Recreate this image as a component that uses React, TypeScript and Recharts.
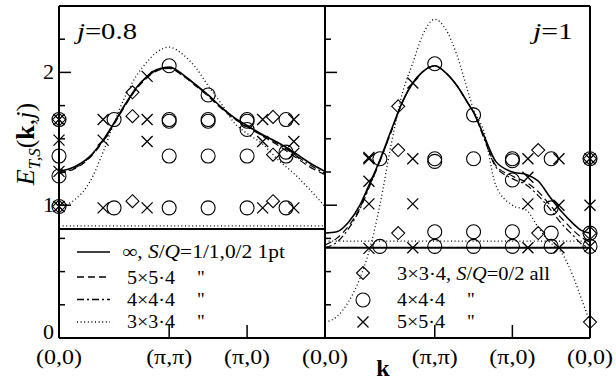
import React from 'react';
import { ComposedChart, Line, Scatter, XAxis, YAxis } from 'recharts';

// path (0,0) -> (pi,pi) -> (pi,0) -> (0,0), distance in units of pi
const PATH_TICKS = [0, 1.414, 2.414, 3.414];
const PATH_LABELS = ['(0,0)', '(π,π)', '(π,0)', '(0,0)'];
const E_TICKS = [0, 0.25, 0.5, 0.75, 1, 1.25, 1.5, 1.75, 2, 2.25, 2.5];
const E_LABELS = [0, 1, 2];
const BAND_K = [0, 3.414];

// j = 0.8 curves
const K_08 = [0, 0.2, 0.4, 0.566, 0.707, 0.85, 1.0, 1.131, 1.25, 1.414, 1.6, 1.75, 1.914, 2.1, 2.25, 2.414, 2.614, 2.814, 3.014, 3.214, 3.414];
const E08_INF = [1.255, 1.29, 1.37, 1.49, 1.62, 1.76, 1.89, 1.97, 2.02, 2.04, 1.98, 1.91, 1.83, 1.73, 1.66, 1.6, 1.53, 1.47, 1.4, 1.32, 1.255];
const E08_5 = [1.24, 1.275, 1.36, 1.48, 1.61, 1.75, 1.88, 1.96, 2.01, 2.03, 1.97, 1.9, 1.82, 1.72, 1.65, 1.59, 1.52, 1.45, 1.37, 1.29, 1.23];
const E08_4 = [1.245, 1.28, 1.365, 1.485, 1.615, 1.755, 1.885, 1.965, 2.015, 2.035, 1.975, 1.905, 1.825, 1.725, 1.655, 1.595, 1.525, 1.46, 1.385, 1.305, 1.24];
const E08_3 = [0.99, 1.04, 1.18, 1.4, 1.62, 1.82, 1.98, 2.08, 2.15, 2.19, 2.13, 2.04, 1.9, 1.75, 1.62, 1.54, 1.46, 1.34, 1.24, 1.12, 0.99];
const BAND08_INF = [0.82, 0.82];
const BAND08_3 = [0.845, 0.845];

// j = 0.8 exact diagonalisation points
const D08_K = [0, 0, 0.943, 0.943, 0.943, 2.747, 2.747, 2.747];
const D08_E = [1.645, 0.99, 1.85, 1.67, 1.03, 1.665, 1.38, 1.03];
const C08_K = [0, 0, 0, 0, 0.707, 0.707, 1.414, 1.414, 1.414, 1.414, 1.414, 1.914, 1.914, 1.914, 1.914, 1.914, 2.414, 2.414, 2.414, 2.414, 2.414, 2.914, 2.914, 2.914, 2.914];
const C08_E = [1.645, 1.37, 1.22, 0.99, 1.645, 0.98, 2.05, 1.645, 1.632, 1.37, 0.98, 1.83, 1.645, 1.632, 1.37, 0.98, 1.645, 1.632, 1.57, 1.37, 0.98, 1.645, 1.4, 1.37, 0.98];
const X08_K = [0, 0, 0, 0, 0.566, 0.566, 0.566, 1.131, 1.131, 1.131, 1.131, 2.614, 2.614, 2.614, 3.014, 3.014, 3.014, 3.014];
const X08_E = [1.645, 1.49, 1.255, 0.99, 1.645, 1.49, 0.98, 1.97, 1.645, 1.48, 0.98, 1.645, 1.48, 0.98, 1.645, 1.48, 1.39, 0.98];

// j = 1 curves
const K_1 = [0, 0.15, 0.3, 0.45, 0.566, 0.707, 0.85, 1.0, 1.131, 1.25, 1.414, 1.55, 1.7, 1.85, 1.914, 2.05, 2.2, 2.414, 2.6, 2.75, 2.9, 3.05, 3.2, 3.3, 3.414];
const E1_INF = [0.79, 0.8, 0.87, 1.0, 1.15, 1.34, 1.56, 1.78, 1.92, 2.0, 2.05, 2.0, 1.9, 1.76, 1.7, 1.52, 1.33, 1.25, 1.23, 1.18, 1.06, 0.95, 0.86, 0.81, 0.79];
const E1_5 = [0.7, 0.75, 0.84, 0.98, 1.14, 1.33, 1.55, 1.78, 1.92, 2.0, 2.05, 2.0, 1.9, 1.76, 1.7, 1.51, 1.3, 1.22, 1.17, 1.1, 1.0, 0.9, 0.81, 0.76, 0.72];
const E1_4 = [0.68, 0.72, 0.82, 0.97, 1.13, 1.33, 1.55, 1.78, 1.92, 2.0, 2.05, 2.0, 1.9, 1.76, 1.7, 1.5, 1.29, 1.2, 1.15, 1.07, 0.97, 0.86, 0.77, 0.71, 0.68];
const E1_3 = [0.12, 0.16, 0.27, 0.45, 0.65, 1.0, 1.45, 1.85, 2.07, 2.27, 2.4, 2.33, 2.13, 1.84, 1.72, 1.55, 1.15, 1.0, 0.96, 0.83, 0.72, 0.64, 0.46, 0.3, 0.12];
const BAND1_INF = [0.68, 0.68];
const BAND1_3 = [0.73, 0.73];

// j = 1 exact diagonalisation points
const D1_K = [0.943, 0.943, 0.943, 2.747, 2.747, 3.414, 3.414, 3.414];
const D1_E = [1.745, 1.415, 0.79, 1.415, 0.79, 1.35, 0.79, 0.12];
const C1_K = [0.707, 0.707, 1.414, 1.414, 1.414, 1.414, 1.414, 1.914, 1.914, 1.914, 1.914, 2.414, 2.414, 2.414, 2.414, 2.414, 2.914, 2.914, 2.914, 2.914, 3.414, 3.414, 3.414];
const C1_E = [1.35, 0.69, 2.065, 1.35, 1.33, 0.8, 0.69, 1.68, 1.35, 0.8, 0.69, 1.35, 1.335, 1.19, 0.8, 0.69, 1.35, 0.98, 0.79, 0.69, 1.35, 0.79, 0.69];
const X1_K = [0.566, 0.566, 0.566, 0.566, 0.566, 1.131, 1.131, 1.131, 1.131, 2.614, 2.614, 2.614, 2.614, 3.014, 3.014, 3.014, 3.414, 3.414, 3.414];
const X1_E = [1.35, 1.36, 1.18, 1.01, 0.675, 1.92, 1.35, 1.01, 0.68, 1.35, 1.21, 1.01, 0.68, 1.35, 1.0, 0.68, 1.35, 1.0, 0.69];

const pts = (xs: number[], ys: number[]) => xs.map((x, i) => ({ x, y: ys[i] }));

const FONT = '"Liberation Serif", "Times New Roman", serif';
const DASH = '7 4';
const DASHDOT = '7 3 2 3';
const DOT = '1 2.6';

function Circle(p: any) {
  return <circle cx={p.cx} cy={p.cy} r={7} fill="none" stroke="#000" strokeWidth={1.1} />;
}
function Diamond(p: any) {
  const { cx, cy } = p;
  const s = 6.5;
  return <path d={`M${cx},${cy - s}L${cx + s},${cy}L${cx},${cy + s}L${cx - s},${cy}Z`} fill="none" stroke="#000" strokeWidth={1.1} />;
}
function Cross(p: any) {
  const { cx, cy } = p;
  const s = 5.5;
  return <path d={`M${cx - s},${cy - s}L${cx + s},${cy + s}M${cx - s},${cy + s}L${cx + s},${cy - s}`} stroke="#000" strokeWidth={1.3} />;
}

const isMajor = (v: number) => Math.abs(v - Math.round(v)) < 1e-6;
const inner = (v: number) => v > 0.01 && v < 3.4;

function Panel(props: any) {
  const { left, right, showY, firstLabel, curves, bands, diamonds, circles, crosses } = props;
  const axisLine = { stroke: '#000', strokeWidth: 2 };
  // axes are 1px thick so that they get drawn; margins account for that pixel
  return (
    <div style={{ position: 'absolute', left: 0, top: 0 }}>
      <ComposedChart width={616} height={380} margin={{ top: 5, right: 616 - right - 1, bottom: 41, left: left - 1 }}>
        <XAxis
          xAxisId="b" type="number" dataKey="x" domain={[0, 3.414]} ticks={PATH_TICKS} interval={0}
          height={1} tickSize={0} tickMargin={0} tickLine={false} axisLine={axisLine}
          tick={(t: any) => {
            const v = t.payload.value;
            const i = PATH_TICKS.indexOf(v);
            return (
              <g>
                {inner(v) && <line x1={t.x} x2={t.x} y1={t.y} y2={t.y - 13} stroke="#000" strokeWidth={1.5} />}
                {(i > 0 || firstLabel) && (
                  <text x={t.x} y={t.y + 26} textAnchor="middle" fontSize={22} textLength={46} lengthAdjust="spacingAndGlyphs"
                    fontFamily={FONT} fill="#000">{PATH_LABELS[i]}</text>
                )}
              </g>
            );
          }}
        />
        <XAxis
          xAxisId="t" orientation="top" type="number" dataKey="x" domain={[0, 3.414]} ticks={PATH_TICKS} interval={0}
          height={1} tickSize={0} tickMargin={0} tickLine={false} axisLine={axisLine}
          tick={(t: any) => (inner(t.payload.value) ? <line x1={t.x} x2={t.x} y1={t.y} y2={t.y + 13} stroke="#000" strokeWidth={1.5} /> : <g />)}
        />
        <YAxis
          yAxisId="l" type="number" dataKey="y" domain={[0, 2.5]} ticks={E_TICKS} interval={0}
          width={1} tickSize={0} tickMargin={0} tickLine={false} axisLine={axisLine}
          tick={(t: any) => {
            const v = t.payload.value;
            const major = isMajor(v);
            return (
              <g>
                <line x1={t.x} x2={t.x + (major ? 12 : 6)} y1={t.y} y2={t.y} stroke="#000" strokeWidth={1.5} />
                {showY && E_LABELS.includes(v) && (
                  <text x={t.x - 5} y={t.y + (v === 0 ? 1 : 7)} textAnchor="end" fontSize={22} fontFamily={FONT} fill="#000">{v}</text>
                )}
              </g>
            );
          }}
        />
        <YAxis
          yAxisId="r" orientation="right" type="number" dataKey="y" domain={[0, 2.5]} ticks={E_TICKS} interval={0}
          width={1} tickSize={0} tickMargin={0} tickLine={false} axisLine={axisLine}
          tick={(t: any) => {
            const major = isMajor(t.payload.value);
            return <line x1={t.x} x2={t.x - (major ? 12 : 6)} y1={t.y} y2={t.y} stroke="#000" strokeWidth={1.5} />;
          }}
        />
        {bands.map((b: any, i: number) => (
          <Line key={'b' + i} xAxisId="b" yAxisId="l" data={b.data} dataKey="y" type="linear" stroke="#000"
            strokeWidth={b.w} strokeDasharray={b.dash} dot={false} activeDot={false} isAnimationActive={false} />
        ))}
        {curves.map((c: any, i: number) => (
          <Line key={'c' + i} xAxisId="b" yAxisId="l" data={c.data} dataKey="y" type="monotone" stroke="#000"
            strokeWidth={c.w} strokeDasharray={c.dash} dot={false} activeDot={false} isAnimationActive={false} />
        ))}
        <Scatter xAxisId="b" yAxisId="l" data={diamonds} dataKey="y" shape={Diamond} isAnimationActive={false} />
        <Scatter xAxisId="b" yAxisId="l" data={circles} dataKey="y" shape={Circle} isAnimationActive={false} />
        <Scatter xAxisId="b" yAxisId="l" data={crosses} dataKey="y" shape={Cross} isAnimationActive={false} />
      </ComposedChart>
    </div>
  );
}

function Overlay() {
  const txt = { fontFamily: FONT, fill: '#000' } as const;
  const lg = { ...txt, fontSize: 19, lengthAdjust: 'spacingAndGlyphs' } as const;
  const q = '"';
  return (
    <svg width={616} height={380} style={{ position: 'absolute', left: 0, top: 0, pointerEvents: 'none' }}>
      <g transform="translate(34,144) rotate(-90)">
        <text {...txt} fontSize={26} textAnchor="middle">
          <tspan fontStyle="italic">E</tspan>
          <tspan fontStyle="italic" fontSize={17} dy={6}>T,S</tspan>
          <tspan dy={-6}>(</tspan>
          <tspan fontWeight="bold">k</tspan>,<tspan fontStyle="italic">j</tspan>)
        </text>
      </g>
      <text {...txt} x={383} y={376} fontSize={24} fontWeight="bold" textAnchor="middle">k</text>
      <text {...txt} x={77} y={39} fontSize={23} textLength={60} lengthAdjust="spacingAndGlyphs"><tspan fontStyle="italic">j</tspan>=0.8</text>
      <text {...txt} x={533} y={39} fontSize={23} textLength={40} lengthAdjust="spacingAndGlyphs"><tspan fontStyle="italic">j</tspan>=1</text>

      <line x1={77} x2={110} y1={252} y2={252} stroke="#000" strokeWidth={1.5} />
      <line x1={77} x2={110} y1={277} y2={277} stroke="#000" strokeWidth={1.3} strokeDasharray={DASH} />
      <line x1={77} x2={110} y1={299.5} y2={299.5} stroke="#000" strokeWidth={1.3} strokeDasharray={DASHDOT} />
      <line x1={77} x2={110} y1={322} y2={322} stroke="#000" strokeWidth={1.3} strokeDasharray={DOT} />
      <text {...lg} x={122} y={258} textLength={163}>∞, <tspan fontStyle="italic">S</tspan>/<tspan fontStyle="italic">Q</tspan>=1/1,0/2 1pt</text>
      <text {...lg} x={127} y={284} textLength={48}>5×5·4</text>
      <text {...lg} x={127} y={306} textLength={48}>4×4·4</text>
      <text {...lg} x={127} y={328} textLength={48}>3×3·4</text>
      <text {...txt} fontSize={19} x={197} y={284}>{q}</text>
      <text {...txt} fontSize={19} x={197} y={306}>{q}</text>
      <text {...txt} fontSize={19} x={197} y={328}>{q}</text>

      <Diamond cx={363} cy={273} />
      <Circle cx={363} cy={300} />
      <Cross cx={363} cy={322} />
      <text {...lg} x={397} y={280} textLength={153}>3×3·4, <tspan fontStyle="italic">S</tspan>/<tspan fontStyle="italic">Q</tspan>=0/2 all</text>
      <text {...lg} x={397} y={306} textLength={48}>4×4·4</text>
      <text {...lg} x={397} y={328} textLength={48}>5×5·4</text>
      <text {...txt} fontSize={19} x={467} y={306}>{q}</text>
      <text {...txt} fontSize={19} x={467} y={328}>{q}</text>
    </svg>
  );
}

export default function App() {
  const curves08 = [
    { data: pts(K_08, E08_3), dash: DOT, w: 1.3 },
    { data: pts(K_08, E08_4), dash: DASHDOT, w: 1.2 },
    { data: pts(K_08, E08_5), dash: DASH, w: 1.2 },
    { data: pts(K_08, E08_INF), dash: undefined, w: 1.6 },
  ];
  const bands08 = [
    { data: pts(BAND_K, BAND08_3), dash: DOT, w: 1.3 },
    { data: pts(BAND_K, BAND08_INF), dash: undefined, w: 2 },
  ];
  const curves1 = [
    { data: pts(K_1, E1_3), dash: DOT, w: 1.3 },
    { data: pts(K_1, E1_4), dash: DASHDOT, w: 1.2 },
    { data: pts(K_1, E1_5), dash: DASH, w: 1.2 },
    { data: pts(K_1, E1_INF), dash: undefined, w: 1.6 },
  ];
  const bands1 = [
    { data: pts(BAND_K, BAND1_3), dash: DOT, w: 1.3 },
    { data: pts(BAND_K, BAND1_INF), dash: undefined, w: 2 },
  ];
  return (
    <div style={{ position: 'absolute', left: 0, top: 0, width: 616, height: 380, background: '#fff' }}>
      <Panel left={59} right={325} showY firstLabel curves={curves08} bands={bands08}
        diamonds={pts(D08_K, D08_E)} circles={pts(C08_K, C08_E)} crosses={pts(X08_K, X08_E)} />
      <Panel left={325} right={590} showY={false} firstLabel={false} curves={curves1} bands={bands1}
        diamonds={pts(D1_K, D1_E)} circles={pts(C1_K, C1_E)} crosses={pts(X1_K, X1_E)} />
      <Overlay />
    </div>
  );
}
